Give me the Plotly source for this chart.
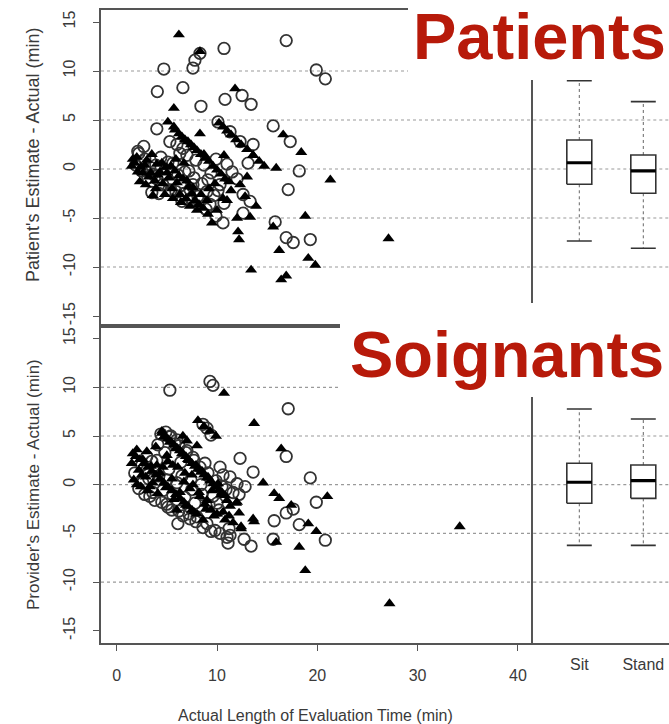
import plotly.graph_objects as go

W, H = 669, 724

# ---------------- data ----------------
# Top panel: Patient's estimate - actual (min) vs actual length (min)
pat_circle_x = [4.7, 4.05, 4.0, 6.6, 7.6, 7.8, 8.3, 10.7, 8.4, 10.8, 12.5, 13.4, 16.9, 19.9, 20.8,
                10.1, 11.3, 12.3, 13.6, 15.6, 17.3, 18.2, 17.1, 5.3, 7.2, 7.6, 9.1, 10.1, 10.7, 12.6,
                13.3, 12.6, 9.9, 10.6, 8.9, 6.5, 7.3, 3.5, 4.2, 5.4, 2.1, 2.7, 5.1, 6.3, 15.8, 16.9,
                17.6, 19.3,
                2.2, 2.8, 3.3, 3.6, 4.0, 4.4, 4.8, 5.3, 5.6, 6.1, 6.4, 6.8, 7.3, 7.7, 8.1, 8.5, 9.3,
                9.7, 6.0, 6.6, 7.0, 7.9, 8.7, 9.4, 10.3, 11.5, 12.0, 13.1,
                1.9, 2.5, 3.1, 3.9, 4.6, 5.2, 5.9, 6.7, 7.4, 8.3, 9.0, 11.0, 9.9]
pat_circle_y = [10.2, 7.9, 4.1, 8.3, 10.3, 11.1, 11.8, 12.3, 6.4, 7.1, 7.5, 6.6, 13.1, 10.1, 9.2,
                4.8, 3.8, 2.8, 2.5, 4.4, 2.8, -0.2, -2.1, 2.8, -0.2, -1.6, -1.1, -2.2, -3.5, -2.6,
                -3.3, -4.5, -4.8, -5.5, -4.1, -3.3, -3.3, -2.4, -2.5, -2.2, 1.8, 2.3, 0.7, 1.6, -5.4, -7.0,
                -7.5, -7.2,
                1.6, 1.0, 0.2, -0.5, -1.0, 1.2, -0.6, -1.3, 0.6, -0.6, -1.7, -0.3, -2.1, -0.9, -2.8, -1.5, -3.6,
                -2.7, 2.5, 2.1, 1.4, 0.9, 0.4, -0.4, -1.6, -0.3, -1.0, 0.6,
                0.4, -0.2, -0.9, 0.4, -1.6, -2.1, -2.3, -2.5, -3.0, -3.3, -2.3, 0.5, 1.0]

pat_tri_x = [6.2, 5.7, 5.1, 5.7, 8.3, 11.8, 8.3, 16.6, 18.4, 21.3, 14.7, 15.9, 13.0, 13.6, 10.7, 8.7,
             11.0, 12.8, 13.9, 13.3, 12.0, 12.1, 12.2, 13.4, 16.2, 16.4, 16.9, 18.8, 19.1, 19.8, 9.5,
             15.6, 1.5, 2.3, 3.6, 27.1,
             1.8, 2.0, 2.4, 2.6, 3.0, 3.2, 3.5, 3.8, 4.0, 4.3, 4.6, 4.9, 5.2, 5.5, 5.8, 6.0, 6.3, 6.6,
             6.9, 7.2, 7.5, 7.8, 8.2, 8.6, 9.0,
             5.8, 6.2, 6.5, 6.8, 7.1, 7.4, 7.7, 8.0, 8.4, 8.8, 9.2, 9.6, 10.0, 10.4, 10.8, 11.2,
             10.2, 10.6, 11.0, 11.4, 11.9, 12.4, 13.0, 13.6, 14.2,
             1.6, 2.1, 2.8, 3.4, 4.1, 4.5, 5.0, 5.4, 6.2, 7.0, 7.6, 8.4, 9.2, 9.8, 5.9, 6.7, 2.9,
             3.9, 4.8, 5.6, 6.4, 7.3, 8.0, 9.1, 10.0, 10.6, 11.4, 12.3]
pat_tri_y = [13.7, 6.2, 4.8, 4.3, 3.6, 8.2, 12.0, 3.5, 1.7, -1.1, 0.3, 0.1, -0.8, 1.4, 1.4, 1.5,
             -3.2, -2.8, -3.8, -4.9, -5.0, -6.4, -7.2, -10.3, -8.3, -11.3, -10.9, -4.8, -9.1, -9.8, -5.5,
             -5.9, 0.3, -1.3, -2.7, -7.1,
             0.6, 1.2, 0.2, -0.4, 0.9, -0.8, 1.5, -1.2, 0.5, -0.3, -1.5, 0.2, -0.9, -2.0, -0.2, -1.4, -2.6, -1.0,
             -3.0, -1.8, -2.5, -3.2, -3.6, -4.0, -3.2,
             4.0, 3.6, 3.3, 3.0, 2.8, 2.5, 2.2, 1.9, 1.5, 1.1, 0.8, 0.3, -0.1, -0.5, -1.0, -1.3,
             4.7, 4.3, 3.9, 3.5, 3.0, 2.5, 2.0, 1.4, 0.8,
             1.0, -0.3, 0.4, -0.4, -0.6, 0.6, -0.4, 0.3, -0.7, -1.2, -1.9, -2.6, -2.0, -1.5, 1.0, 0.6, -1.6,
             -2.0, -2.6, -3.0, -3.4, -3.8, -4.2, -4.6, -4.2, -3.0, -2.2, -1.6]

# Bottom panel: Provider's estimate - actual (min) vs actual length (min)
prov_circle_x = [5.3, 9.3, 9.6, 17.1, 16.9, 19.3, 19.9, 20.8, 18.2, 17.6, 16.9, 15.7, 15.6, 13.4, 12.7,
                 11.1, 11.3, 10.0, 10.3, 11.3, 12.0, 12.3, 13.6, 9.8, 9.0, 6.1, 7.3, 5.1, 3.3, 4.1, 3.0,
                 1.8, 2.2, 2.5, 2.8, 3.2, 3.5, 3.8, 4.2, 4.4, 4.6, 4.8, 5.0, 5.2, 5.6, 5.8, 6.0, 6.2,
                 6.4, 6.8, 7.0, 7.2, 7.4, 7.6, 7.8, 8.0, 8.4, 8.8, 9.2, 9.6, 10.2, 10.6, 10.9, 11.2,
                 11.6, 12.2, 12.8, 5.4, 6.0, 8.6, 9.0, 9.4,
                 4.9, 5.3, 6.2, 6.9, 7.7, 8.3, 9.1, 9.9, 10.5, 2.6, 3.6, 4.5, 5.5, 6.6, 7.9, 8.6, 9.4,
                 10.3, 11.0, 3.0, 4.0, 5.0, 6.5, 7.5, 8.5]
prov_circle_y = [9.7, 10.6, 10.2, 7.8, 2.9, 0.7, -1.8, -5.7, -4.1, -2.5, -2.9, -3.7, -5.6, -6.3, -5.6,
                 -6.0, -5.2, -1.9, 1.8, 0.8, 0.1, 2.7, 1.3, -4.7, -4.0, -4.0, -3.5, -2.3, -1.2, 4.1, 2.9,
                 1.2, -0.4, 2.0, -1.0, 0.6, 2.4, -1.6, 0.9, 5.2, -0.6, 3.3, -2.0, 1.6, -1.1, 4.2, 0.2, -2.7,
                 2.3, -1.3, 3.5, -3.0, 0.5, 2.8, -1.9, -3.3, 0.0, 2.2, -2.1, -1.2, -2.6, 1.0, -0.5, -4.5,
                 -0.8, -1.0, -0.2, 5.0, 4.6, 6.2, 5.8, 5.1,
                 5.4, 4.9, 4.0, 3.3, 2.5, 1.8, 1.2, 0.4, -0.2, 0.2, -0.8, -1.8, -2.6, -3.2, -3.8, -4.4, -4.8,
                 -5.0, -5.4, 1.5, 2.5, 0.5, 0.9, -0.5, -1.0]

prov_tri_x = [21.0, 18.2, 18.8, 19.1, 19.9, 15.7, 16.2, 17.4, 15.9, 14.6, 13.6, 13.7, 11.9, 12.4,
              10.7, 13.7, 16.4, 34.2, 27.2,
              1.5, 1.7, 2.0, 2.2, 2.4, 2.6, 2.9, 3.1, 3.4, 3.6, 3.9, 4.1, 4.3, 4.5, 4.7, 4.9, 5.1,
              5.3, 5.5, 5.7, 5.9, 6.1, 6.3, 6.5, 6.7, 6.9, 7.1, 7.3, 7.5, 7.7, 7.9, 8.1, 8.3, 8.5,
              8.7, 8.9, 9.1, 9.3, 9.5, 9.7, 9.9, 10.1, 10.4, 10.8, 11.0, 11.3, 11.6, 12.0, 12.4,
              8.0, 7.0, 6.6, 5.0, 3.0, 4.0, 6.0, 8.6, 10.6,
              4.5, 4.8, 5.1, 5.4, 5.7, 6.0, 6.3, 6.6, 6.9, 7.2, 7.5, 7.8, 8.1, 8.4, 8.7, 9.0, 9.3,
              9.6, 9.9, 10.2, 10.5, 10.8,
              1.6, 1.9, 2.3, 2.7, 3.1, 3.5, 3.9, 4.3, 4.7, 5.1, 5.5, 5.9, 6.3, 6.7, 7.1, 7.5, 8.0,
              2.0, 2.5, 3.3, 4.6, 5.6, 6.8, 7.6, 8.2, 9.0, 8.8, 9.4, 10.0, 11.2, 12.2]
prov_tri_y = [-1.2, -6.4, -8.8, -4.0, -4.8, -0.9, -1.4, -2.1, -5.9, 0.2, -3.5, -3.8, -1.9, -4.5,
              9.4, 6.3, 3.7, -4.3, -12.2,
              2.2, 0.5, 3.6, 1.5, -0.2, 2.6, 0.8, -0.6, 1.9, 0.2, 3.9, -0.9, 1.2, 5.5, 4.9, -0.3, 2.4,
              4.4, 0.6, -1.5, 3.7, 1.8, -0.8, 3.2, 0.3, -2.1, 2.6, -0.4, 1.0, -2.8, 2.0, 6.6, -1.2, 1.4,
              6.0, -2.5, 0.8, 5.5, -0.6, -3.2, 5.0, 0.1, -1.0, -3.6, -1.6, -2.2, -3.9, -1.8, -4.3,
              4.0, 4.5, 5.0, 3.0, 3.4, 2.0, -2.6, -3.6, -2.8,
              5.3, 5.0, 4.7, 4.4, 4.1, 3.8, 3.5, 3.2, 2.9, 2.5, 2.2, 1.9, 1.6, 1.3, 1.0, 0.7, 0.4,
              0.1, -0.2, -0.5, -0.8, -1.1,
              3.2, 2.9, 2.6, 2.2, 1.8, 1.4, 1.0, 0.6, 0.2, -0.2, -0.6, -1.0, -1.4, -1.8, -2.2, -2.6, -3.0,
              0.0, 1.0, -0.2, 1.8, 2.0, 1.2, 0.0, -0.8, -1.6, -2.0, -2.6, -3.0, -3.2, -2.9]

# Box plot summaries (lower whisker, Q1, median, Q3, upper whisker)
box_groups = ["Sit", "Stand"]
box_pos = [1, 2]
pat_box = {"lower": [-7.35, -8.09], "q1": [-1.56, -2.48], "median": [0.64, -0.2],
           "q3": [2.96, 1.43], "upper": [9.0, 6.87]}
prov_box = {"lower": [-6.23, -6.23], "q1": [-1.91, -1.40], "median": [0.25, 0.41],
            "q3": [2.2, 2.02], "upper": [7.77, 6.75]}

grid_vals = [-10, -5, 0, 5, 10]
y_ticks = [-15, -10, -5, 0, 5, 10, 15]
x_ticks = [0, 10, 20, 30, 40]

# ---------------- layout helpers ----------------
def px_x(p):
    return p / W

def px_y(p):
    return 1 - p / H

X_L, X_SEP = 101, 533.3
TOP_T, MID, BOT_B = 10, 326, 642.7

fig = go.Figure()

FONT = "Liberation Sans, Arial, sans-serif"
TXT = "#3a3a3a"
LINE = "#555555"

def add_scatter(xa, ya, cx, cy, tx, ty):
    fig.add_trace(go.Scatter(x=cx, y=cy, mode="markers", xaxis=xa, yaxis=ya, showlegend=False,
                             marker=dict(symbol="circle-open", size=11.5, color="#333333",
                                         line=dict(width=1.8, color="#333333"))))
    fig.add_trace(go.Scatter(x=tx, y=ty, mode="markers", xaxis=xa, yaxis=ya, showlegend=False,
                             marker=dict(symbol="triangle-up", size=10.5, color="#000000",
                                         line=dict(width=0))))

def add_boxes(xa, ya, st):
    hw = 0.195
    for i, pos in enumerate(box_pos):
        lo, q1, md, q3, up = (st["lower"][i], st["q1"][i], st["median"][i], st["q3"][i], st["upper"][i])
        # whiskers (dotted)
        fig.add_trace(go.Scatter(x=[pos, pos, None, pos, pos], y=[q3, up, None, q1, lo], mode="lines",
                                 xaxis=xa, yaxis=ya, showlegend=False,
                                 line=dict(color="#666666", width=1, dash="dot")))
        # staples
        fig.add_trace(go.Scatter(x=[pos - hw, pos + hw, None, pos - hw, pos + hw],
                                 y=[up, up, None, lo, lo], mode="lines", xaxis=xa, yaxis=ya,
                                 showlegend=False, line=dict(color="#333333", width=1.6)))
        # box
        fig.add_trace(go.Scatter(x=[pos - hw, pos + hw, pos + hw, pos - hw, pos - hw],
                                 y=[q1, q1, q3, q3, q1], mode="lines", fill="toself",
                                 fillcolor="white", xaxis=xa, yaxis=ya, showlegend=False,
                                 line=dict(color="#333333", width=1.6)))
        # median
        fig.add_trace(go.Scatter(x=[pos - hw, pos + hw], y=[md, md], mode="lines",
                                 xaxis=xa, yaxis=ya, showlegend=False,
                                 line=dict(color="#000000", width=3.2)))

add_scatter("x", "y", pat_circle_x, pat_circle_y, pat_tri_x, pat_tri_y)
add_scatter("x2", "y2", prov_circle_x, prov_circle_y, prov_tri_x, prov_tri_y)
add_boxes("x3", "y3", pat_box)
add_boxes("x4", "y4", prov_box)

# axis ranges derived from reference pixel geometry
x_rng = [(X_L - 116.7) / 10.03, (X_SEP - 116.7) / 10.03]
y_top_rng = [(169 - MID) / 9.8, (169 - TOP_T) / 9.8]
y_bot_rng = [(484.7 - BOT_B) / 9.74, (484.7 - MID) / 9.74]
box_rng = [1 - (579.3 - X_SEP) / 64, 2 + (W - 643.3) / 64]

dom_scatter = [px_x(X_L), px_x(X_SEP)]
dom_box = [px_x(X_SEP), 1.0]
dom_top = [px_y(MID), px_y(TOP_T)]
dom_bot = [px_y(BOT_B), px_y(MID)]

tickfont = dict(family=FONT, size=16, color=TXT)
common_y = dict(tickmode="array", tickvals=y_ticks, ticktext=[str(v) for v in y_ticks],
                showgrid=False, zeroline=False, showline=True, linecolor=LINE, linewidth=1.5,
                ticks="outside", ticklen=6, tickwidth=1.2, tickcolor=LINE, tickangle=-90,
                tickfont=tickfont, ticklabelstandoff=12)

fig.update_layout(
    width=W, height=H, margin=dict(l=0, r=0, t=0, b=0),
    paper_bgcolor="white", plot_bgcolor="white", showlegend=False,
    xaxis=dict(domain=dom_scatter, range=x_rng, anchor="y", showticklabels=False, ticks="",
               showgrid=False, zeroline=False, showline=True, mirror=True, linecolor=LINE, linewidth=1.5),
    yaxis=dict(domain=dom_top, range=y_top_rng, anchor="x", **common_y),
    xaxis2=dict(domain=dom_scatter, range=x_rng, anchor="y2", tickmode="array", tickvals=x_ticks,
                ticktext=[str(v) for v in x_ticks], showgrid=False, zeroline=False, showline=True,
                mirror=True, linecolor=LINE, linewidth=1.5, ticks="outside", ticklen=7, tickwidth=1.2,
                tickcolor=LINE, tickfont=tickfont, ticklabelstandoff=10),
    yaxis2=dict(domain=dom_bot, range=y_bot_rng, anchor="x2", **common_y),
    xaxis3=dict(domain=dom_box, range=box_rng, anchor="y3", showticklabels=False, ticks="",
                showgrid=False, zeroline=False, showline=False),
    yaxis3=dict(domain=dom_top, range=y_top_rng, anchor="x3", showticklabels=False, ticks="",
                showgrid=False, zeroline=False, showline=True, linecolor=LINE, linewidth=1.5),
    xaxis4=dict(domain=dom_box, range=box_rng, anchor="y4", tickmode="array", tickvals=box_pos,
                ticktext=box_groups, ticks="", showgrid=False, zeroline=False, showline=True,
                linecolor=LINE, linewidth=1.5, tickfont=dict(family=FONT, size=16, color=TXT),
                ticklabelstandoff=6),
    yaxis4=dict(domain=dom_bot, range=y_bot_rng, anchor="x4", showticklabels=False, ticks="",
                showgrid=False, zeroline=False, showline=True, linecolor=LINE, linewidth=1.5),
)

shapes = []
for xr, yr in [("x domain", "y"), ("x2 domain", "y2"), ("x3 domain", "y3"), ("x4 domain", "y4")]:
    for g in grid_vals:
        shapes.append(dict(type="line", xref=xr, yref=yr, x0=0, x1=1, y0=g, y1=g, layer="below",
                           line=dict(color="#9a9a9a", width=1.2, dash="dot")))
# white label panels overlaying the figure
shapes.append(dict(type="rect", xref="paper", yref="paper", x0=px_x(408), x1=1.0,
                   y0=px_y(80), y1=1.0, fillcolor="white", line=dict(width=0), layer="above"))
shapes.append(dict(type="rect", xref="paper", yref="paper", x0=px_x(340), x1=1.0,
                   y0=px_y(397), y1=px_y(303), fillcolor="white", line=dict(width=0), layer="above"))
fig.update_layout(shapes=shapes)

RED = "rgb(183,26,10)"
ann = [
    dict(text="<b>Patients</b>", x=px_x(668), y=px_y(37), xref="paper", yref="paper",
         xanchor="right", yanchor="middle", showarrow=False,
         font=dict(family=FONT, size=65, color=RED)),
    dict(text="<b>Soignants</b>", x=px_x(666), y=px_y(354), xref="paper", yref="paper",
         xanchor="right", yanchor="middle", showarrow=False,
         font=dict(family=FONT, size=65, color=RED)),
    dict(text="Patient's Estimate - Actual (min)", x=px_x(33), y=px_y(155), xref="paper",
         yref="paper", textangle=-90, showarrow=False, xanchor="center", yanchor="middle",
         font=dict(family=FONT, size=18, color=TXT)),
    dict(text="Provider's Estimate - Actual (min)", x=px_x(33), y=px_y(485), xref="paper",
         yref="paper", textangle=-90, showarrow=False, xanchor="center", yanchor="middle",
         font=dict(family=FONT, size=17, color=TXT)),
    dict(text="Actual Length of Evaluation Time (min)", x=px_x(315), y=px_y(715), xref="paper",
         yref="paper", showarrow=False, xanchor="center", yanchor="middle",
         font=dict(family=FONT, size=16, color=TXT)),
]
fig.update_layout(annotations=ann)

# the page body gets no default margin so the figure fills the window exactly
fig.write_html("out.html", config={"displayModeBar": False},
               post_script="document.body.style.margin='0';document.body.style.overflow='hidden';")
